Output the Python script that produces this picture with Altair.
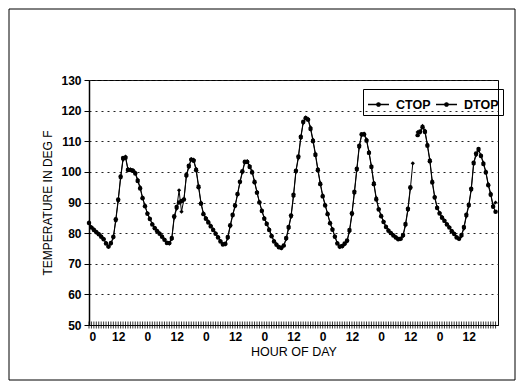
import altair as alt
import pandas as pd

FONT = "Liberation Sans"

series_names = ["CTOP", "DTOP"]
hours = list(range(168))

ctop = [
    83.5, 82.0, 81.3, 80.5, 79.8, 79.0, 78.2, 76.8, 75.5, 76.5, 78.5, 84.0,
    90.5, 98.0, 104.0, 105.0, 101.0, 100.8, 100.6, 99.8, 97.5, 95.0, 91.7, 89.0,
    86.5, 84.8, 83.0, 81.8, 80.8, 80.0, 79.0, 78.0, 77.0, 76.6, 78.0, 85.0,
    88.0, 94.0, 87.0, 91.0, 98.5, 101.5, 104.2, 104.0, 101.0, 95.5, 90.0, 86.5,
    85.0, 83.8, 82.5, 81.2, 80.0, 78.8, 77.5, 76.5, 76.3, 78.3, 82.2, 85.6,
    88.7, 92.5, 96.5, 99.8, 103.0, 103.5, 102.0, 100.2, 97.0, 93.5, 90.2, 87.5,
    85.0, 83.3, 81.3, 79.3, 77.5, 76.4, 75.6, 75.0, 75.8, 78.0, 81.5, 85.3,
    92.0, 100.0, 104.5, 111.0, 116.0, 117.8, 117.3, 114.5, 110.5, 106.0, 101.0, 96.4,
    92.4, 89.3, 86.5, 83.5, 81.4, 79.0, 76.8, 75.4, 75.6, 76.3, 77.3, 80.5,
    86.0, 93.0, 100.5, 108.0, 112.0, 112.5, 110.6, 106.6, 102.0, 96.5, 91.5, 88.0,
    85.8, 83.8, 82.2, 81.0, 80.2, 79.4, 78.8, 78.2, 78.0, 79.0, 82.5, 87.5,
    94.5, 102.8, None, 113.0, 112.8, 115.0, 113.5, 109.0, 104.0, 97.0, 92.0, 88.5,
    86.7, 85.3, 84.2, 83.0, 82.0, 80.8, 79.9, 78.8, 78.0, 79.0, 81.5, 85.5,
    88.8, 94.0, 102.5, 105.5, 107.0, 105.5, 103.0, 100.2, 96.0, 93.0, 89.0, 90.0,
]

dtop = [
    83.3, 81.8, 81.0, 80.3, 79.6, 78.8, 78.0, 76.6, 75.6, 76.8, 78.8, 84.5,
    91.0, 98.5, 104.5, 104.6, 100.6, 100.6, 100.4, 99.5, 97.0, 94.6, 91.4, 88.8,
    86.3, 84.6, 82.8, 81.6, 80.6, 79.8, 78.8, 77.8, 76.8, 76.8, 78.4, 85.5,
    88.5, 90.0, 90.5, 91.0, 99.0, 102.0, 104.0, 103.6, 100.5, 95.0, 89.6, 86.2,
    84.7, 83.5, 82.2, 81.0, 79.8, 78.6, 77.3, 76.3, 76.5, 78.7, 82.6, 86.0,
    89.0, 92.8, 96.8, 100.2, 103.3, 103.2, 101.6, 99.8, 96.6, 93.2, 90.0, 87.2,
    84.7, 83.0, 81.0, 79.0, 77.3, 76.2, 75.4, 75.2, 76.0, 78.4, 82.0, 85.8,
    92.5, 100.4, 105.0, 111.5, 116.4, 117.5, 117.0, 114.0, 110.0, 105.5, 100.5, 96.0,
    92.0, 89.0, 86.2, 83.2, 81.1, 78.8, 76.6, 75.6, 75.8, 76.6, 77.6, 81.0,
    86.5, 93.5, 101.0, 108.5, 112.3, 112.2, 110.2, 106.2, 101.6, 96.0, 91.0, 87.7,
    85.5, 83.6, 82.0, 80.8, 80.0, 79.2, 78.6, 78.0, 78.2, 79.4, 83.0, 88.0,
    95.0, None, None, 112.0, 113.2, 114.6, 113.0, 108.5, 103.5, 96.5, 91.6, 88.2,
    86.4, 85.0, 84.0, 82.8, 81.8, 80.6, 79.7, 78.6, 78.2, 79.4, 82.0, 86.0,
    89.3, 94.5, 103.0, 106.0, 107.5, 105.2, 102.6, 99.8, 95.6, 92.5, 88.6, 87.0,
]

x_tick_values = list(range(0, 157, 12))
y_tick_values = list(range(50, 131, 10))
axis_floor = 50

rows = []
for h, c, d in zip(hours, ctop, dtop):
    rows.append({"hour": h, "series": "CTOP", "temp": c})
    rows.append({"hour": h, "series": "DTOP", "temp": d})
df = pd.DataFrame(rows)
df_hours = pd.DataFrame({"hour": hours, "temp": [axis_floor] * len(hours)})
df_frame = pd.DataFrame({"f": [0]})

x_enc = alt.X(
    "hour:Q",
    scale=alt.Scale(domain=[0, 168], nice=False, zero=False),
    axis=alt.Axis(
        values=x_tick_values,
        labelExpr="'' + (datum.value % 24)",
        title="HOUR OF DAY",
        grid=False,
        ticks=False,
        labelPadding=6,
        titlePadding=3,
        domainColor="black",
        domainWidth=1.2,
        labelFont=FONT,
        labelFontSize=12,
        labelFontWeight="bold",
        labelColor="black",
        labelOverlap=False,
        titleFont=FONT,
        titleFontSize=12.5,
        titleFontWeight="normal",
        titleColor="black",
    ),
)
y_enc = alt.Y(
    "temp:Q",
    scale=alt.Scale(domain=[50, 130], nice=False, zero=False),
    axis=alt.Axis(
        values=y_tick_values,
        title="TEMPERATURE IN DEG F",
        grid=True,
        gridDash=[2, 4],
        gridColor="#222222",
        gridWidth=1,
        tickSize=5,
        tickColor="black",
        labelPadding=3,
        titlePadding=6,
        domainColor="black",
        domainWidth=1.5,
        labelFont=FONT,
        labelFontSize=12,
        labelFontWeight="bold",
        labelColor="black",
        labelOverlap=False,
        titleFont=FONT,
        titleFontSize=12,
        titleFontWeight="normal",
        titleColor="black",
    ),
)

legend = alt.Legend(
    title=None,
    orient="none",
    legendX=274,
    legendY=9,
    direction="horizontal",
    strokeColor="black",
    padding=4,
    labelFont=FONT,
    labelFontSize=12.5,
    labelFontWeight="bold",
    labelColor="black",
    labelOffset=6,
    columnPadding=2,
    symbolType="M-1,0L1,0M-0.16,0A0.16,0.16,0,1,1,0.16,0A0.16,0.16,0,1,1,-0.16,0Z",
    symbolSize=440,
    symbolStrokeWidth=1.3,
    symbolStrokeColor="black",
    symbolFillColor="black",
)

lines = alt.Chart(df).mark_line(strokeWidth=1).encode(
    x=x_enc,
    y=y_enc,
    color=alt.Color("series:N", scale=alt.Scale(domain=series_names, range=["black", "black"]), legend=legend),
)

pts_c = alt.Chart(df).transform_filter(alt.datum.series == "CTOP").mark_point(
    filled=True, opacity=1, color="black", shape="diamond", size=18
).encode(x=x_enc, y=y_enc)

pts_d = alt.Chart(df).transform_filter(alt.datum.series == "DTOP").mark_point(
    filled=True, opacity=1, color="black", shape="circle", size=20
).encode(x=x_enc, y=y_enc)

band = alt.Chart(df_hours).mark_tick(color="black", thickness=1, size=7, orient="vertical", opacity=0.8).encode(
    x=x_enc,
    y=y_enc,
)

frame = alt.Chart(df_frame).mark_rect(filled=False, stroke="black", strokeWidth=1).encode(
    x=alt.value(-80),
    x2=alt.value(426),
    y=alt.value(-71),
    y2=alt.value(300),
)

chart = alt.layer(frame, band, lines, pts_c, pts_d).properties(
    width=409,
    height=245,
    autosize="none",
    padding={"left": 81, "top": 72, "right": 18, "bottom": 58},
    background="white",
).configure_view(stroke="black", strokeWidth=1)

chart.save("out.html", embed_options={"renderer": "svg", "actions": False})
